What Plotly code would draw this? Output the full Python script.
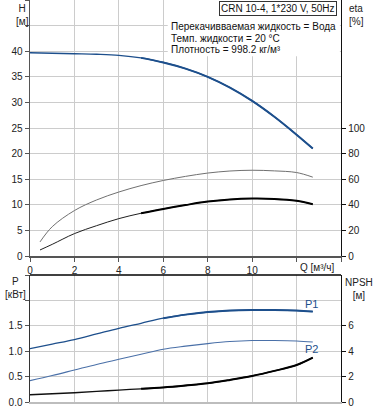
import plotly.graph_objects as go

# ---- data ----
q = [0, 1, 2, 3, 4, 5, 6, 7, 8, 9, 10, 11, 12, 12.73]
head = [39.7, 39.6, 39.5, 39.4, 39.2, 38.7, 37.8, 36.6, 35.0, 32.9, 30.3, 27.2, 23.7, 21.0]

q_eta = [0.45, 1, 2, 3, 4, 5, 6, 7, 8, 9, 10, 11, 12, 12.73]
eta_total = [4.7, 9.1, 17.5, 23.7, 29.2, 33.4, 36.8, 39.8, 42.5, 44.2, 44.9, 44.6, 43.1, 40.5]
eta_pump = [11.0, 22.9, 35.5, 43.8, 50.0, 55.0, 59.0, 62.2, 64.8, 66.4, 67.0, 66.5, 65.2, 61.6]

p1 = [1.05, 1.14, 1.23, 1.34, 1.45, 1.55, 1.65, 1.72, 1.77, 1.80, 1.81, 1.81, 1.80, 1.78]
p2 = [0.42, 0.52, 0.63, 0.74, 0.84, 0.94, 1.04, 1.10, 1.15, 1.19, 1.21, 1.21, 1.20, 1.18]
npsh = [0.57, 0.65, 0.73, 0.83, 0.94, 1.04, 1.15, 1.30, 1.47, 1.74, 2.05, 2.45, 2.91, 3.49]

q_ticks = [0, 2, 4, 6, 8, 10, 12, 14]
q_ticktext = ["0", "2", "4", "6", "8", "10", "", ""]
h_ticks = [0, 5, 10, 15, 20, 25, 30, 35, 40, 45, 50]
h_ticktext = ["0", "5", "10", "15", "20", "25", "30", "35", "40", "", ""]
eta_ticks = [0, 20, 40, 60, 80, 100]
p_ticks = [0, 0.5, 1.0, 1.5, 2.0, 2.5]
p_ticktext = ["0.0", "0.5", "1.0", "1.5", "", ""]
npsh_ticks = [0, 2, 4, 6]

title_text = "CRN 10-4, 1*230 V, 50Hz"
info_lines = ["Перекачивваемая жидкость = Вода",
              "Темп. жидкости = 20 °C",
              "Плотность = 998.2 кг/м³"]

BLUE = "#1d4f8c"
BLUE2 = "#4a70a8"
FONT = "Liberation Sans, Arial, sans-serif"
GRID = "#cccccc"
FS = 10

W, H = 378, 410
ML, MR, MT, MB = 30, 37, 0, 8
PW = W - ML - MR
PH = H - MT - MB


def px_x(px):
    return (px - ML) / PW


def px_y(py):
    return (PH + MT - py) / PH


def part(xs, ys, lo):
    xx, yy = [], []
    for a, b in zip(xs, ys):
        if a >= lo:
            xx.append(a)
            yy.append(b)
    return xx, yy


fig = go.Figure()

# top plot curves
fig.add_trace(go.Scatter(x=q, y=head, mode="lines", line=dict(color=BLUE, width=1.3, shape="spline"),
                         xaxis="x", yaxis="y", hoverinfo="skip"))
hx, hy = part(q, head, 5)
fig.add_trace(go.Scatter(x=hx, y=hy, mode="lines", line=dict(color=BLUE, width=2, shape="spline"),
                         xaxis="x", yaxis="y", hoverinfo="skip"))
fig.add_trace(go.Scatter(x=q_eta, y=eta_pump, mode="lines", line=dict(color="#707070", width=1, shape="spline"),
                         xaxis="x", yaxis="y2", hoverinfo="skip"))
fig.add_trace(go.Scatter(x=q_eta, y=eta_total, mode="lines", line=dict(color="#202020", width=1, shape="spline"),
                         xaxis="x", yaxis="y2", hoverinfo="skip"))
ex, ey = part(q_eta, eta_total, 5)
fig.add_trace(go.Scatter(x=ex, y=ey, mode="lines", line=dict(color="#000000", width=2, shape="spline"),
                         xaxis="x", yaxis="y2", hoverinfo="skip"))

# bottom plot curves
fig.add_trace(go.Scatter(x=q, y=p1, mode="lines", line=dict(color=BLUE, width=1.3, shape="spline"),
                         xaxis="x2", yaxis="y3", hoverinfo="skip"))
px1, py1 = part(q, p1, 6)
fig.add_trace(go.Scatter(x=px1, y=py1, mode="lines", line=dict(color=BLUE, width=2, shape="spline"),
                         xaxis="x2", yaxis="y3", hoverinfo="skip"))
fig.add_trace(go.Scatter(x=q, y=p2, mode="lines", line=dict(color=BLUE2, width=1.1, shape="spline"),
                         xaxis="x2", yaxis="y3", hoverinfo="skip"))
fig.add_trace(go.Scatter(x=q, y=npsh, mode="lines", line=dict(color="#101010", width=1.3, shape="spline"),
                         xaxis="x2", yaxis="y4", hoverinfo="skip"))
nx, ny = part(q, npsh, 5)
fig.add_trace(go.Scatter(x=nx, y=ny, mode="lines", line=dict(color="#000000", width=2, shape="spline"),
                         xaxis="x2", yaxis="y4", hoverinfo="skip"))

top_dom = [px_y(256), 1]
bot_dom = [0, px_y(275)]

tickfont = dict(family=FONT, size=FS, color="#222222")

fig.update_layout(
    width=W, height=H,
    margin=dict(l=ML, r=MR, t=MT, b=MB, pad=0),
    paper_bgcolor="white", plot_bgcolor="white",
    showlegend=False,
    font=dict(family=FONT, size=FS, color="#222222"),
    xaxis=dict(domain=[0, 1], range=[0, 14], anchor="y", tickvals=q_ticks, ticktext=q_ticktext,
               showgrid=True, gridcolor=GRID, gridwidth=1, zeroline=False,
               showline=True, linecolor="#555555", linewidth=1.5,
               ticks="outside", ticklen=4, tickcolor="#555555", tickfont=tickfont),
    yaxis=dict(domain=top_dom, range=[0, 50], tickvals=h_ticks, ticktext=h_ticktext,
               showgrid=True, gridcolor=GRID, gridwidth=1, zeroline=False,
               showline=True, linecolor="#555555", linewidth=1.5,
               ticks="outside", ticklen=4, tickcolor="#555555", tickfont=tickfont),
    yaxis2=dict(overlaying="y", side="right", anchor="x", range=[0, 200], tickvals=eta_ticks,
                showgrid=False, zeroline=False, showline=True, linecolor="#111111", linewidth=1.2,
                ticks="outside", ticklen=4, tickcolor="#111111", tickfont=tickfont),
    xaxis2=dict(domain=[0, 1], range=[0, 14], anchor="y3", tickvals=q_ticks, showticklabels=False,
                showgrid=True, gridcolor=GRID, gridwidth=1, zeroline=False,
                showline=True, linecolor="#bdbdbd", linewidth=2, ticks=""),
    yaxis3=dict(domain=bot_dom, range=[0, 2.5], anchor="x2", tickvals=p_ticks, ticktext=p_ticktext,
                showgrid=True, gridcolor=GRID, gridwidth=1, zeroline=False,
                showline=True, linecolor="#333333", linewidth=1.5,
                ticks="outside", ticklen=4, tickcolor="#555555", tickfont=tickfont),
    yaxis4=dict(overlaying="y3", side="right", anchor="x2", range=[0, 10], tickvals=npsh_ticks,
                showgrid=False, zeroline=False, showline=True, linecolor="#111111", linewidth=1.2,
                ticks="outside", ticklen=4, tickcolor="#111111", tickfont=tickfont),
)

shapes = [
    # white block behind the info text
    dict(type="rect", xref="x", yref="y", x0=6.2, x1=13.95, y0=39, y1=50.5,
         fillcolor="white", line=dict(width=0), layer="above"),
    # top border of lower plot
    dict(type="line", xref="paper", yref="paper", x0=0, x1=1, y0=bot_dom[1], y1=bot_dom[1],
         line=dict(color="#000000", width=1.5), layer="above"),
]
fig.update_layout(shapes=shapes)

lab = dict(family=FONT, size=FS, color="#222")
ann = []
ann.append(dict(text=title_text, xref="paper", yref="paper", x=px_x(278), y=px_y(8),
                xanchor="center", yanchor="middle", showarrow=False, font=dict(family=FONT, size=FS, color="#111"),
                bgcolor="white", bordercolor="#333333", borderwidth=1, borderpad=1))
for i, t in enumerate(info_lines):
    ann.append(dict(text=t, xref="paper", yref="paper", x=px_x(169), y=px_y(27 + 11.5 * i),
                    xanchor="left", yanchor="middle", showarrow=False,
                    font=dict(family=FONT, size=FS, color="#111")))
# axis titles (two-line blocks)
ann += [
    dict(text="H<br>[м]", xref="paper", yref="paper", x=px_x(22), y=px_y(1), xanchor="center", yanchor="top",
         align="center", showarrow=False, font=lab),
    dict(text="eta<br>[%]", xref="paper", yref="paper", x=px_x(347), y=px_y(1), xanchor="left", yanchor="top",
         align="left", showarrow=False, font=lab),
    dict(text="Q [м³/ч]", xref="paper", yref="paper", x=px_x(317), y=px_y(267), xanchor="center", yanchor="middle",
         showarrow=False, font=lab),
    dict(text="P<br>[кВт]", xref="paper", yref="paper", x=px_x(15), y=px_y(274), xanchor="center", yanchor="top",
         align="center", showarrow=False, font=lab),
    dict(text="NPSH<br>[м]", xref="paper", yref="paper", x=px_x(359), y=px_y(275), xanchor="center", yanchor="top",
         align="center", showarrow=False, font=lab),
    dict(text="P1", xref="x2", yref="y3", x=12.65, y=1.92, xanchor="center", yanchor="middle",
         showarrow=False, font=dict(family=FONT, size=11, color=BLUE)),
    dict(text="P2", xref="x2", yref="y3", x=12.65, y=1.04, xanchor="center", yanchor="middle",
         showarrow=False, font=dict(family=FONT, size=11, color=BLUE)),
]
fig.update_layout(annotations=ann)

fig.write_html("out.html",
               config={"displayModeBar": False, "staticPlot": True},
               post_script="document.body.style.margin='0';document.body.style.padding='0';"
                           "document.body.style.overflow='hidden';")
